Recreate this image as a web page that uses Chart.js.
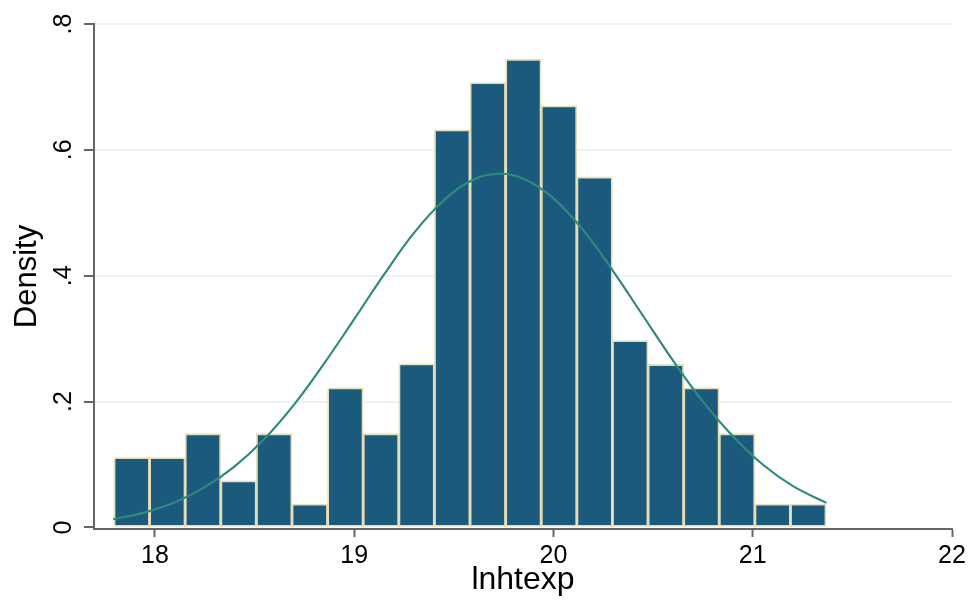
<!DOCTYPE html>
<html>
<head>
<meta charset="utf-8">
<script src="https://cdn.jsdelivr.net/npm/chart.js@4/dist/chart.umd.min.js"></script>
<style>
    html, body { margin: 0; padding: 0; background: #ffffff; }
    #wrap { width: 977px; height: 601px; }
</style>
</head>
<body>
<div id="wrap"><canvas id="hist-chart" width="977" height="601"></canvas></div>
<script>
"use strict";

// histogram bins (start + width) and their densities
const binStart = 17.794;
const binWidth = 0.1787;
const binDensity = [0.111, 0.111, 0.149, 0.074, 0.149, 0.037, 0.222, 0.149, 0.260, 0.632,
                    0.707, 0.744, 0.670, 0.557, 0.297, 0.259, 0.222, 0.149, 0.037, 0.037];

// normal density overlay
const curveX = [17.79, 17.95, 18.10, 18.25, 18.40, 18.55, 18.70, 18.85, 19.00, 19.15, 19.30, 19.45, 19.60,
                19.73, 19.85, 20.00, 20.15, 20.30, 20.45, 20.60, 20.75, 20.90, 21.05, 21.20, 21.37];
const curveY = [0.013, 0.024, 0.040, 0.064, 0.097, 0.141, 0.196, 0.261, 0.331, 0.402, 0.468, 0.520, 0.553,
                0.562, 0.554, 0.523, 0.472, 0.407, 0.336, 0.265, 0.200, 0.145, 0.100, 0.066, 0.039];

const xTicks = [18, 19, 20, 21, 22];
const yTicks = [0, 0.2, 0.4, 0.6, 0.8];
const yTickLabels = ["0", ".2", ".4", ".6", ".8"];

const barColor = "#1b5a7d";
const barEdge = "#e6dcb5";
const curveColor = "#2f8a7d";
const axisColor = "#666666";
const gridColor = "#eaf2f2";
const fontFamily = "'Liberation Sans', Arial, Helvetica, sans-serif";

const barPoints = binDensity.map((d, i) => ({ x: binStart + binWidth * (i + 0.5), y: d }));
const curvePoints = curveX.map((x, i) => ({ x: x, y: curveY[i] }));

const ctx = document.getElementById("hist-chart").getContext("2d");

new Chart(ctx, {
    type: "bar",
    data: {
        datasets: [
            {
                type: "line",
                data: curvePoints,
                borderColor: curveColor,
                borderWidth: 2.2,
                pointRadius: 0,
                tension: 0.4,
                fill: false,
                order: 0
            },
            {
                type: "bar",
                data: barPoints,
                backgroundColor: barColor,
                borderColor: barEdge,
                borderWidth: 1.8,
                borderSkipped: false,
                barPercentage: 1,
                categoryPercentage: 1,
                order: 1
            }
        ]
    },
    options: {
        responsive: false,
        animation: false,
        layout: { padding: { left: 0, right: 25, top: 21, bottom: 0 } },
        plugins: {
            legend: { display: false },
            tooltip: { enabled: false }
        },
        scales: {
            x: {
                type: "linear",
                offset: false,
                min: 17.694,
                max: 22,
                afterBuildTicks: (scale) => { scale.ticks = xTicks.map(v => ({ value: v })); },
                afterFit: (scale) => { scale.height = 72; },
                grid: {
                    offset: false,
                    drawOnChartArea: false,
                    drawTicks: true,
                    tickLength: 8,
                    tickColor: axisColor,
                    tickWidth: 2
                },
                border: { display: true, color: axisColor, width: 2 },
                ticks: {
                    color: "#000000",
                    padding: 4,
                    maxRotation: 0,
                    font: { family: fontFamily, size: 25 },
                    callback: (v) => String(v)
                },
                title: {
                    display: true,
                    text: "lnhtexp",
                    color: "#000000",
                    padding: { top: 0, bottom: 2 },
                    font: { family: fontFamily, size: 32 }
                }
            },
            y: {
                min: -0.0025,
                max: 0.8,
                afterBuildTicks: (scale) => { scale.ticks = yTicks.map(v => ({ value: v })); },
                afterFit: (scale) => { scale.width = 94; },
                grid: {
                    color: (c) => (c.tick && c.tick.value === 0 ? "rgba(0,0,0,0)" : gridColor),
                    lineWidth: 2,
                    drawTicks: true,
                    tickLength: 10,
                    tickColor: axisColor,
                    tickWidth: 2
                },
                border: { display: true, color: axisColor, width: 2 },
                ticks: {
                    color: "#000000",
                    padding: 9,
                    minRotation: 90,
                    maxRotation: 90,
                    crossAlign: "center",
                    font: { family: fontFamily, size: 25 },
                    callback: (v) => {
                        const idx = yTicks.indexOf(v);
                        return idx >= 0 ? yTickLabels[idx] : "";
                    }
                },
                title: {
                    display: true,
                    text: "Density",
                    color: "#000000",
                    padding: { top: 9, bottom: 0 },
                    font: { family: fontFamily, size: 31 }
                }
            }
        }
    }
});
</script>
</body>
</html>
